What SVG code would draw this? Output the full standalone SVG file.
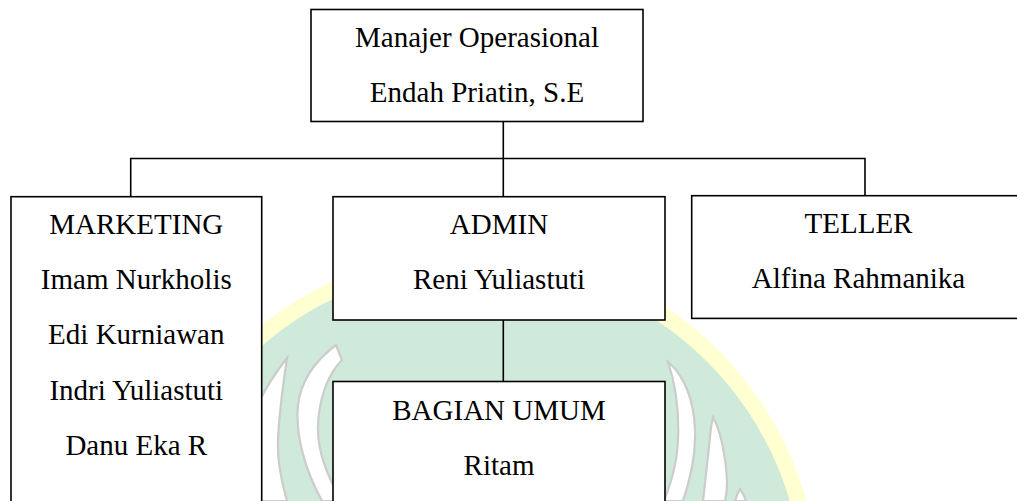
<svg xmlns="http://www.w3.org/2000/svg" width="1017" height="501" viewBox="0 0 1017 501">
<style>
  .box { fill: #ffffff; stroke: #000000; stroke-width: 1.6; }
  .conn { fill: none; stroke: #000000; stroke-width: 1.6; }
  .t { font-family: "Liberation Serif", "Times New Roman", serif; font-size: 29px; fill: #000000; text-anchor: middle; }
  .leaf { fill: #ffffff; stroke: #cccccc; stroke-width: 2.2; }
</style>
<rect x="0" y="0" width="1017" height="501" fill="#ffffff"/>
<g id="watermark">
  <circle cx="476" cy="593" r="343" fill="#ffffd2"/>
  <circle cx="476" cy="593" r="327" fill="#cfeadb"/>
  <path class="leaf" d="M668,362 C684,375 694,400 695,430 C696,455 690,480 683,501 L664,501 C670,485 677,465 678,440 C679,415 676,385 668,362 Z"/>
  <path class="leaf" d="M713,417 C720,430 726,455 727,480 C727,490 726,497 725,501 L703,501 C705,485 707,465 709,447 C710,435 711,425 713,417 Z"/>
  <path class="leaf" d="M740,489 C743,493 745,497 746,501 L735,501 C736,497 738,493 740,489 Z"/>
  <path class="leaf" d="M287,358 C276,372 266,388 260,400 L260,501 L287,501 C281,480 277,460 278,440 C279,415 283,385 287,358 Z"/>
  <path class="leaf" d="M336,345 C316,360 301,380 298,405 C295,435 305,470 322,501 L342,501 C326,475 317,450 318,425 C319,400 327,375 342,360 Z"/>
</g>
<g id="connectors">
  <path class="conn" d="M503.3,121.5 V196.7"/>
  <path class="conn" d="M130.7,196.7 V158.5 H865 V195.7"/>
  <path class="conn" d="M503.3,320 V381.5"/>
</g>
<g id="manajer">
  <rect class="box" x="311" y="9.5" width="332" height="112"/>
  <text class="t" x="477" y="47">Manajer Operasional</text>
  <text class="t" x="477" y="102">Endah Priatin, S.E</text>
</g>
<g id="marketing">
  <rect class="box" x="11" y="196.7" width="250.7" height="330"/>
  <text class="t" x="136.3" y="233.5">MARKETING</text>
  <text class="t" x="136.3" y="288.5">Imam Nurkholis</text>
  <text class="t" x="136.3" y="344">Edi Kurniawan</text>
  <text class="t" x="136.3" y="399.5">Indri Yuliastuti</text>
  <text class="t" x="136.3" y="455">Danu Eka R</text>
</g>
<g id="admin">
  <rect class="box" x="333" y="196.7" width="332" height="123.3"/>
  <text class="t" x="499" y="234">ADMIN</text>
  <text class="t" x="499" y="289.3">Reni Yuliastuti</text>
</g>
<g id="bagian-umum">
  <rect class="box" x="333" y="381.5" width="332" height="150"/>
  <text class="t" x="499" y="419.5">BAGIAN UMUM</text>
  <text class="t" x="499" y="475">Ritam</text>
</g>
<g id="teller">
  <rect class="box" x="691.7" y="195.7" width="334" height="122.7"/>
  <text class="t" x="858.5" y="233.3">TELLER</text>
  <text class="t" x="858.5" y="288.3">Alfina Rahmanika</text>
</g>
</svg>
